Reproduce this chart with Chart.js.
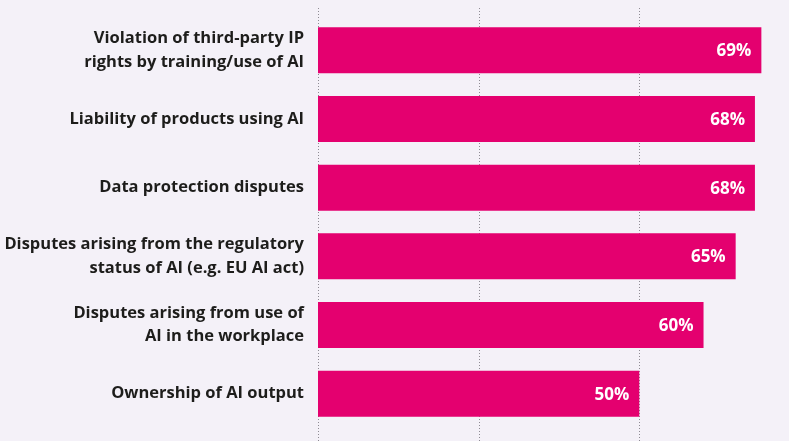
<!DOCTYPE html>
<html>
<head>
<meta charset="utf-8">
<script src="https://cdn.jsdelivr.net/npm/chart.js@4.4.1/dist/chart.umd.min.js"></script>
<style>
  html, body { margin: 0; padding: 0; background: #f4f1f8; }
  #wrap { width: 789px; height: 441px; position: relative; }
</style>
</head>
<body>
<div id="wrap"><canvas id="c"></canvas></div>
<script>
const categories = [
  ["Violation of third-party IP", "rights by training/use of AI"],
  "Liability of products using AI",
  "Data protection disputes",
  ["Disputes arising from the regulatory", "status of AI (e.g. EU AI act)"],
  ["Disputes arising from use of", "AI in the workplace"],
  "Ownership of AI output"
];
const values = [69, 68, 68, 65, 60, 50];
const gridTicks = [0, 25, 50];

const FONT = "'Open Sans', 'DejaVu Sans', sans-serif";
const BAR = "#e4006f";
const GRID = "#8e8b93";

// dotted vertical grid lines, placed by the x scale, spanning the top and bottom axis boxes
const dottedGrid = {
  id: 'dottedGrid',
  beforeDatasetsDraw(chart) {
    const ctx = chart.ctx;
    const xs = chart.scales.x;
    const top = chart.scales.x2.top;
    const bottom = xs.bottom;
    ctx.save();
    ctx.strokeStyle = GRID;
    ctx.lineWidth = 1;
    ctx.setLineDash([1, 2]);
    xs.ticks.forEach(t => {
      const px = Math.round(xs.getPixelForValue(t.value)) + 0.5;
      ctx.beginPath();
      ctx.moveTo(px, top);
      ctx.lineTo(px, bottom);
      ctx.stroke();
    });
    ctx.restore();
  }
};

const valueLabels = {
  id: 'valueLabels',
  afterDatasetsDraw(chart) {
    const ctx = chart.ctx;
    const meta = chart.getDatasetMeta(0);
    ctx.save();
    ctx.font = "bold 17px " + FONT;
    ctx.fillStyle = "#ffffff";
    ctx.textAlign = "right";
    ctx.textBaseline = "middle";
    meta.data.forEach((bar, i) => {
      ctx.fillText(values[i] + "%", bar.x - 10, bar.y + 1);
    });
    ctx.restore();
  }
};

const keepGridTicks = (scale) => {
  scale.ticks = gridTicks.map(v => ({ value: v }));
};

new Chart(document.getElementById('c'), {
  type: 'bar',
  data: {
    labels: categories,
    datasets: [{
      data: values,
      backgroundColor: BAR,
      borderWidth: 0,
      categoryPercentage: 1,
      barPercentage: 0.67
    }]
  },
  options: {
    indexAxis: 'y',
    responsive: true,
    maintainAspectRatio: false,
    animation: false,
    layout: { padding: { top: 8, bottom: 0, left: 0, right: 0 } },
    plugins: { legend: { display: false }, tooltip: { enabled: false } },
    scales: {
      x: {
        position: 'bottom',
        min: 0,
        max: 73.3,
        afterBuildTicks: keepGridTicks,
        afterFit(scale) { scale.height = 13; },
        ticks: { display: false },
        border: { display: false },
        grid: { display: false, drawOnChartArea: false, drawTicks: false }
      },
      x2: {
        type: 'linear',
        position: 'top',
        min: 0,
        max: 73.3,
        afterBuildTicks: keepGridTicks,
        afterFit(scale) { scale.height = 8; },
        ticks: { display: false },
        border: { display: false },
        grid: { display: false, drawOnChartArea: false, drawTicks: false }
      },
      y: {
        afterFit(scale) {
          scale.width = 318;
          scale.paddingTop = 0;
          scale.paddingBottom = 0;
        },
        border: { display: false },
        grid: { display: false, drawTicks: false },
        ticks: {
          padding: 14,
          color: '#1d1d1b',
          font: { family: FONT, size: 16.5, weight: 'bold', lineHeight: 1.4 }
        }
      }
    }
  },
  plugins: [dottedGrid, valueLabels]
});
</script>
</body>
</html>
